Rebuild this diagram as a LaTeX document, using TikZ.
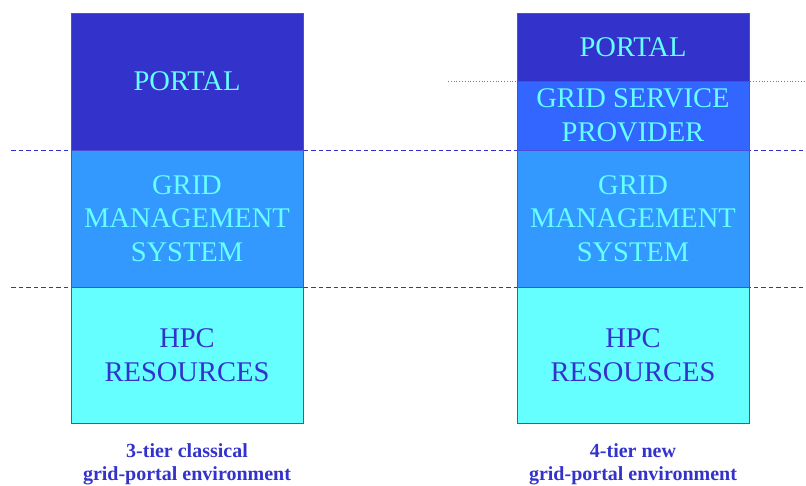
\documentclass[tikz,border=0pt]{standalone}
\usepackage{fontspec}
\setmainfont{Liberation Serif}
\usetikzlibrary{positioning}

\definecolor{portalblue}{HTML}{3333CC}
\definecolor{providerblue}{HTML}{3366FF}
\definecolor{managerblue}{HTML}{3399FF}
\definecolor{hpccyan}{HTML}{66FFFF}
\definecolor{tierline}{HTML}{4D4DD9}

\begin{document}
\begin{tikzpicture}
  [x=1pt, y=-1pt, node distance=0pt,
   tier/.style={draw=tierline, line width=0.6pt, outer sep=0pt, inner sep=0pt,
     minimum width=232pt, align=center, text=hpccyan,
     font=\fontsize{28.5}{33.5}\selectfont},
   portal/.style={tier, fill=portalblue, minimum height=137pt},
   provider/.style={tier, fill=providerblue, minimum height=69pt},
   manager/.style={tier, fill=managerblue, minimum height=137pt},
   hpc/.style={tier, fill=hpccyan, text=portalblue, minimum height=136pt},
   caption/.style={align=center, text=portalblue, inner sep=0pt,
     font=\fontsize{20}{23}\selectfont\bfseries},
   sepline/.style={draw=portalblue, line width=0.9pt, dash pattern=on 4.5pt off 3pt},
   dotline/.style={draw=portalblue!70, line width=0.8pt, dotted}]

  \useasboundingbox (0,0) rectangle (806,486);

  % tier borders
  \coordinate (sep1 start) at (11,150);
  \coordinate (sep1 end)   at (806,150);
  \coordinate (sep2 start) at (11,287);
  \coordinate (sep2 end)   at (806,287);
  \coordinate (dot start)  at (448,81);
  \coordinate (dot end)    at (806,81);

  \draw[sepline] (sep1 start) -- (sep1 end);
  \draw[sepline] (sep2 start) -- (sep2 end);
  \draw[dotline] (dot start) -- (dot end);

  % 3-tier stack
  \node[portal]  (portal3)  [anchor=north] at (187,13) {PORTAL};
  \node[manager] (manager3) [below=of portal3]  {GRID\\MANAGEMENT\\SYSTEM};
  \node[hpc]     (hpc3)     [below=of manager3] {HPC\\RESOURCES};

  % 4-tier stack
  \node[portal, minimum height=68pt] (portal4) [anchor=north] at (633,13) {PORTAL};
  \node[provider] (provider4) [below=of portal4]   {GRID SERVICE\\PROVIDER};
  \node[manager]  (manager4)  [below=of provider4] {GRID\\MANAGEMENT\\SYSTEM};
  \node[hpc]      (hpc4)      [below=of manager4]  {HPC\\RESOURCES};

  \node[caption] (caption3) at (187,464) {3-tier classical\\grid-portal environment};
  \node[caption] (caption4) at (633,464) {4-tier new\\grid-portal environment};
\end{tikzpicture}
\end{document}
